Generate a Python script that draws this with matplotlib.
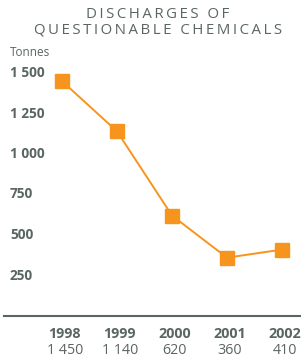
import matplotlib
matplotlib.use("Agg")
import matplotlib.pyplot as plt
import matplotlib.transforms as mtransforms

# data
years = ["1998", "1999", "2000", "2001", "2002"]
values = [1450, 1140, 620, 360, 410]
value_labels = ["1 450", "1 140", "620", "360", "410"]
yticks = [250, 500, 750, 1000, 1250, 1500]
ytick_labels = ["250", "500", "750", "1 000", "1 250", "1 500"]

grey = "#5a6661"
orange = "#f7941d"
plt.rcParams['font.family'] = ['Open Sans', 'DejaVu Sans']

W, H = 301, 357
fig = plt.figure(figsize=(W / 100, H / 100), dpi=100)

# axes placed in pixel terms: x spans 4..301 px, y=0 at 316 px
ax = fig.add_axes([4 / W, (H - 316) / H, 297 / W, 276 / H])
x = list(range(len(years)))
ax.set_xlim(-1.0545, 4.345)
ax.set_ylim(0, 276 / 243 * 1500)
ax.plot(x, values, color=orange, lw=1.4, marker="s", ms=10, mec=orange, mfc=orange)

for s in ["top", "right", "left"]:
    ax.spines[s].set_visible(False)
ax.spines["bottom"].set_color(grey)
ax.spines["bottom"].set_linewidth(1.5)
ax.set_xticks([])
ax.set_yticks([])
ax.patch.set_alpha(0)

# y labels
tr = mtransforms.blended_transform_factory(ax.transAxes, ax.transData)
for v, lab in zip(yticks, ytick_labels):
    ax.text(6 / 297, v, lab, transform=tr, ha="left", va="center",
            fontsize=9.8, fontweight="bold", color=grey)

# x labels below axis
tr2 = mtransforms.blended_transform_factory(ax.transData, fig.transFigure)
for i, (yr, vl) in enumerate(zip(years, value_labels)):
    ax.text(i + 0.05, (H - 334) / H, yr, transform=tr2, ha="center", va="center",
            fontsize=10.3, fontweight="bold", color=grey)
    ax.text(i + 0.05, (H - 350) / H, vl, transform=tr2, ha="center", va="center",
            fontsize=10.3, color=grey)

fig.text(10 / W, (H - 52) / H, "Tonnes", ha="left", va="center", fontsize=8.5, color=grey)

def spaced(s):
    return "\u2009".join(s)

fig.text(158 / W, (H - 15) / H, spaced("DISCHARGES OF"), ha="center", va="center",
         fontsize=10.8, color=grey)
fig.text(158 / W, (H - 29.5) / H, spaced("QUESTIONABLE CHEMICALS"), ha="center", va="center",
         fontsize=10.8, color=grey)

fig.savefig("out.png", dpi=100)
